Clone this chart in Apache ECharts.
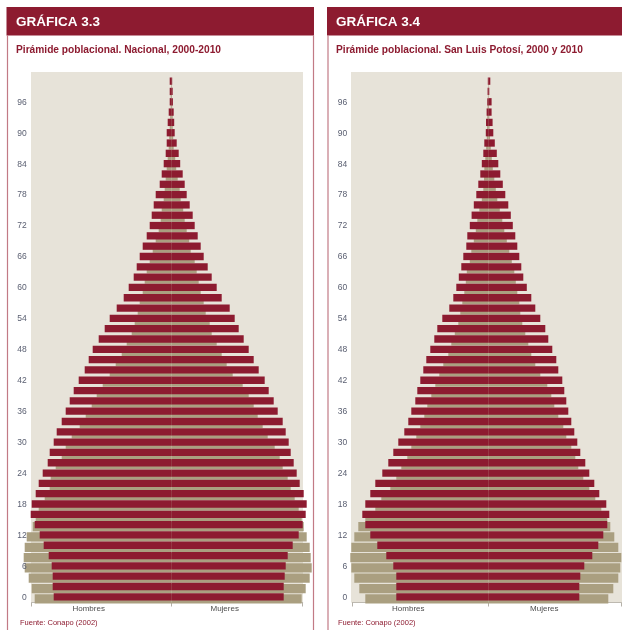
<!DOCTYPE html>
<html><head><meta charset="utf-8">
<script src="https://cdn.jsdelivr.net/npm/echarts@6/dist/echarts.min.js"></script>
<style>html,body{margin:0;padding:0;background:#fff}#c{width:622px;height:630px}</style>
</head><body><div id="c"></div>
<script>
// Age groups (single-year ages, every second year)
const ages = [0,2,4,6,8,10,12,14,16,18,20,22,24,26,28,30,32,34,36,38,40,42,44,46,48,50,52,54,56,58,60,62,64,66,68,70,72,74,76,78,80,82,84,86,88,90,92,94,96,98,100];

// Gráfica 3.3 — Nacional (relative units)
const nacHombres2010 = [118,119,119,120,123,128,132,137,141,140,136,133,129,124,122,118,115,110,106,102,98,93,87,83,79,73,67,62,55,48,43,38,35,32,29,25,22,20,18,16,12,10,8,6,5,5,4,3,2,2,2];
const nacHombres2000 = [137,140,143,147,148,147,145,139,136,133,127,122,121,116,110,106,100,92,86,80,75,69,62,56,50,45,40,37,34,32,29,27,25,22,19,16,13,11,10,8,7,6,5,4,3,2.5,2,1.5,1,1,0.5];
const nacMujeres2010 = [112,112,113,114,116,121,127,131,134,135,132,128,125,122,119,117,114,111,106,102,97,93,87,82,77,72,67,63,58,50,45,40,36,32,29,26,23,21,18,15,13,11,8.5,7,5,3,2.5,2,1.2,1,0.5];
const nacMujeres2000 = [130,134,138,140,139,138,135,132,130,127,123,119,116,111,108,103,96,91,86,82,77,71,61,55,50,45,40,38,34,32,29,27,25,23,19,17.5,15,13,11.5,9,8,6,4.5,3.5,2,1.5,1,1,0.5,0.3,0.2];

// Gráfica 3.4 — San Luis Potosí
const slpHombres2010 = [92,92,92,95,102,111,118,123,126,123,118,113,106,100,95,90,84,80,77,73,71,68,65,62,58,54,51,46,39,35,32,29.5,27,25,22,21,18.5,16.7,14.5,12,10,8,6.5,5,4,2.5,2.3,1.7,1,0.7,0.5];
const slpHombres2000 = [123,129,134,137,138,137,134,130,123,113,107,98,92,87,81,77,72,68,64,61,57,53,49,45,40,37,33.5,30,28,26,24,22.5,21.5,18.5,17,14.5,12.5,11,9,6.5,5,4.3,4,3,2.2,1.5,1.2,1,0.7,0.4,0.3];
const slpMujeres2010 = [91,91,92,96,104,110,115,119,121,118,111,106,101,97,92,89,86,83,80,78,76,74,70,68,64,60,57,52,47,43,38.5,35,33,31,29,27,24.5,22.5,20,17,14.5,12,10,8.5,6.5,5,4.3,3.3,3.3,1,2];
const slpMujeres2000 = [120,125,130,132,133,130,126,122,119,113,107,101,95,90,87,83,78,75,70,66,63,59,52,47,43,40,37,34,32,31,29,27.5,26,23.5,21,18.5,16,14,11.5,9,7.5,6,4.5,3.5,2.5,1.7,1.2,1,0.7,0.4,0.2];

const xLabels = ['Hombres','Mujeres'];
const sources = ['Fuente: Conapo (2002)','Fuente: Conapo (2002)'];

const RED = '#8d1b30', BEIGE = '#aa9f80', BG = '#e7e3d9', LINE = '#c27a85';
const FONT = 'Liberation Sans, Arial, sans-serif';

const panels = [
  {grid:{left:31.7,width:271}, min:-140, max:131, lab:[-83,53],
   h10:nacHombres2010, h00:nacHombres2000, m10:nacMujeres2010, m00:nacMujeres2000},
  {grid:{left:352.3,width:269}, min:-136, max:133, lab:[-80,56],
   h10:slpHombres2010, h00:slpHombres2000, m10:slpMujeres2010, m00:slpMujeres2000}
];

const grids = [], xAxes = [], yAxes = [], series = [];
panels.forEach((p, i) => {
  grids.push({left:p.grid.left, width:p.grid.width, top:76.5, height:526, show:false, containLabel:false, outerBoundsMode:'none'});
  xAxes.push({gridIndex:i, type:'value', min:p.min, max:p.max,
    axisLine:{show:true, lineStyle:{color:'#bdb9b0', width:1}},
    axisTick:{show:true, customValues:[p.min,0,p.max], length:4, lineStyle:{color:'#b5b1a8'}},
    axisLabel:{customValues:p.lab, formatter:v => v < 0 ? xLabels[0] : xLabels[1], fontSize:8, color:'#4d4d4d', margin:2.5, fontFamily:FONT},
    splitLine:{show:false}});
  yAxes.push({gridIndex:i, type:'category', data:ages.map(String), boundaryGap:true, z:20, zlevel:1,
    axisLine:{show:false}, axisTick:{show:false}, splitLine:{show:false},
    axisLabel:{interval:2, fontSize:8.5, color:'#5b6072', margin:5, fontFamily:FONT}});
  const common = {type:'bar', xAxisIndex:i, yAxisIndex:i, barGap:'-111%', clip:false, animation:false, silent:true};
  series.push(Object.assign({}, common, {name:'Hombres 2000', stack:'b'+i, barWidth:9.25, itemStyle:{color:BEIGE}, data:p.h00.map(v => -v)}));
  series.push(Object.assign({}, common, {name:'Mujeres 2000', stack:'b'+i, barWidth:9.25, itemStyle:{color:BEIGE}, data:p.m00.slice()}));
  series.push(Object.assign({}, common, {name:'Hombres 2010', stack:'r'+i, barWidth:7.3, itemStyle:{color:RED}, data:p.h10.map(v => -v)}));
  series.push(Object.assign({}, common, {name:'Mujeres 2010', stack:'r'+i, barWidth:7.3, itemStyle:{color:RED}, data:p.m10.slice()}));
});

const titleTxt = (text, left, top, size, color, bold) => ({text, left, top, padding:0,
  textStyle:{fontSize:size, color, fontWeight:bold?'bold':'normal', fontFamily:FONT}});

const option = {
  backgroundColor:'#ffffff',
  animation:false,
  title:[
    titleTxt('GRÁFICA 3.3', 16, 15, 13.5, '#ffffff', true),
    titleTxt('Pirámide poblacional. Nacional, 2000-2010', 16, 45.5, 10.2, RED, true),
    titleTxt('GRÁFICA 3.4', 336, 15, 13.5, '#ffffff', true),
    titleTxt('Pirámide poblacional. San Luis Potosí, 2000 y 2010', 336, 45.5, 10.2, RED, true),
    titleTxt(sources[0], 20, 618.5, 7.5, RED, false),
    titleTxt(sources[1], 338, 618.5, 7.5, RED, false)
  ],
  graphic:[
    {type:'rect', z:-10, shape:{x:31, y:72, width:272, height:530.5}, style:{fill:BG}},
    {type:'rect', z:-10, shape:{x:351, y:72, width:271, height:530.5}, style:{fill:BG}},
    {type:'rect', z:-5, shape:{x:6.5, y:7, width:307.5, height:28.5}, style:{fill:RED}},
    {type:'rect', z:-5, shape:{x:327, y:7, width:295, height:28.5}, style:{fill:RED}},
    {type:'line', z:-5, shape:{x1:7.5, y1:35, x2:7.5, y2:630}, style:{stroke:LINE, lineWidth:1.2}},
    {type:'line', z:-5, shape:{x1:313.5, y1:35, x2:313.5, y2:630}, style:{stroke:LINE, lineWidth:1.2}},
    {type:'line', z:-5, shape:{x1:328, y1:35, x2:328, y2:630}, style:{stroke:LINE, lineWidth:1.2}}
  ],
  grid:grids, xAxis:xAxes, yAxis:yAxes, series
};
const chart = echarts.init(document.getElementById('c'), null, {renderer:'canvas'});
chart.setOption(option);
</script></body></html>
